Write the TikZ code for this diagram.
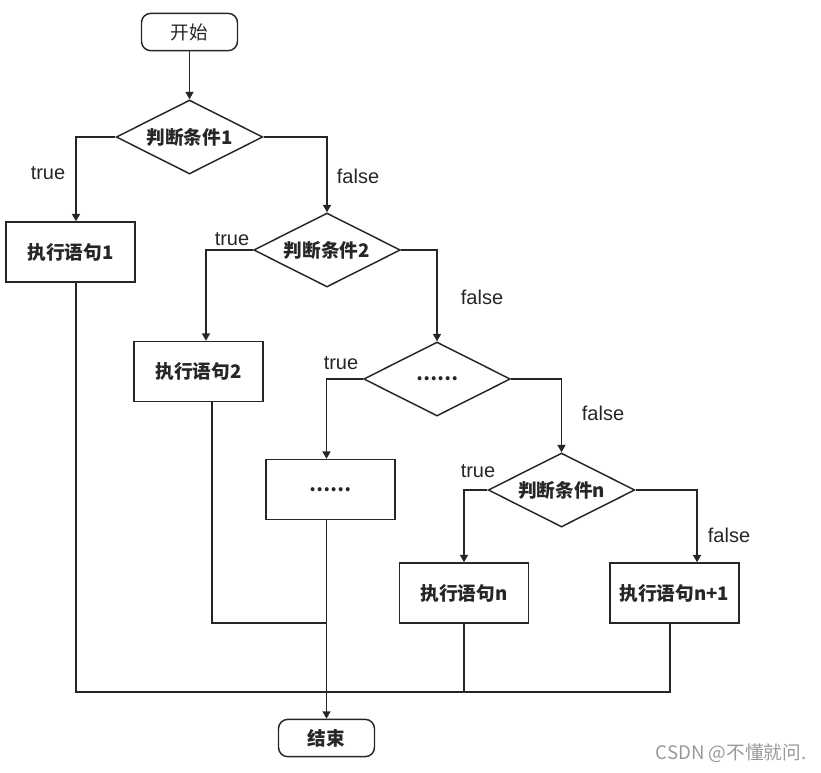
\documentclass[tikz,border=0pt]{standalone}
\usepackage{fontspec}
\setmainfont{Liberation Sans}
\newfontfamily\cjk{Noto Sans CJK SC}
\usetikzlibrary{shapes.geometric, arrows.meta}

\begin{document}
\begin{tikzpicture}[x=0.75pt, y=-0.75pt, line width=1.1pt, color=black!85,
		>={Triangle[length=5.5pt, width=6pt]},
		terminal/.style={draw, rounded corners=7pt, minimum width=72pt, minimum height=28pt, inner sep=0pt, font=\cjk\fontsize{14}{16}\selectfont},
		decision/.style={draw, diamond, aspect=2, minimum width=110pt, minimum height=55.5pt, inner sep=0pt, font=\cjk\bfseries\fontsize{14}{16}\selectfont},
		process/.style={draw, rectangle, minimum width=96.5pt, minimum height=45pt, inner sep=0pt, font=\cjk\bfseries\fontsize{14}{16}\selectfont},
		lbl/.style={font=\fontsize{15}{18}\selectfont}]
	\useasboundingbox (0,0) rectangle (821,772);
	
	% ================= 节点 =================
	\node[terminal] (start) at (189.5,32) {开始};
	\node[decision] (c1) at (189.5,137) {判断条件1};
	\node[process] (s1) at (70.5,252) {执行语句1};
	\node[decision] (c2) at (327,250) {判断条件2};
	\node[process] (s2) at (198.5,371.5) {执行语句2};
	\node[decision] (c3) at (437,379) {……};
	\node[process] (s3) at (330.5,489.5) {……};
	\node[decision] (cn) at (561.5,490) {判断条件n};
	\node[process] (sn) at (464,593) {执行语句n};
	\node[process] (sn1) at (674.5,593) {执行语句n+1};
	\node[terminal, font=\cjk\bfseries\fontsize{14}{16}\selectfont] (stop) at (326.5,738) {结束};
	
	% ================= 分支 =================
	\draw[->] (start) -- (c1);
	\draw[->] (c1.west) -| ([xshift=4.1pt]s1.north);
	\draw[->] (c1.east) -| (c2.north);
	\draw[->] (c2.west) -| ([xshift=5.6pt]s2.north);
	\draw[->] (c2.east) -| (c3.north);
	\draw[->] (c3.west) -| (stop.north |- s3.north);
	\draw[->] (c3.east) -| (cn.north);
	\draw[->] (cn.west) -| (sn.north);
	\draw[->] (cn.east) -| ([xshift=16.9pt]sn1.north);
	
	\node[lbl] (t1) at (48,173) {true};
	\node[lbl] (f1) at (358,176) {false};
	\node[lbl] (t2) at (232,239) {true};
	\node[lbl] (f2) at (482,297) {false};
	\node[lbl] (t3) at (341,363) {true};
	\node[lbl] (f3) at (603,413) {false};
	\node[lbl] (t4) at (478,471) {true};
	\node[lbl] (f4) at (729,535) {false};
	
	% ================= 汇合 =================
	\coordinate (m1) at (326.5,623);
	\coordinate (m2) at (326.5,692);
	\draw ([xshift=10.1pt]s2.south) |- (m1);
	\draw ([xshift=4.1pt]s1.south) |- (m2);
	\draw ([xshift=-3.4pt]sn1.south) |- (m2);
	\draw (sn.south) -- (sn.south |- m2);
	\draw[->] (stop.north |- s3.south) -- (stop.north);
	
	\node[font=\cjk\fontsize{14}{16}\selectfont, text=black!40] (mark) at (731,753) {CSDN @不懂就问.};
\end{tikzpicture}
\end{document}
